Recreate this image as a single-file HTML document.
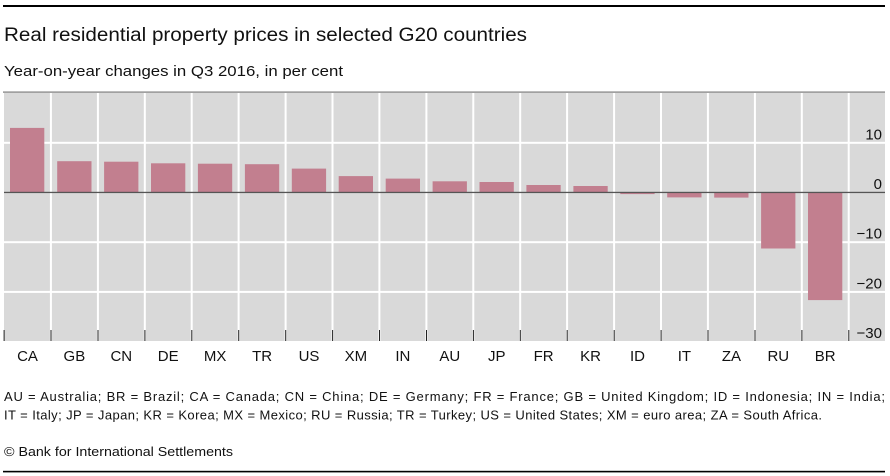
<!DOCTYPE html>
<html>
<head>
<meta charset="utf-8">
<style>
  html,body{margin:0;padding:0;background:#fff;}
  svg{display:block;}
  text{font-family:"Liberation Sans","DejaVu Sans",sans-serif;fill:#111;}
</style>
</head>
<body>
<svg width="890" height="476" viewBox="0 0 890 476" xmlns="http://www.w3.org/2000/svg">
  <!-- top rule -->
  <rect x="3" y="5" width="882" height="2" fill="#000"/>
  <text x="4" y="41" font-size="19" textLength="523" lengthAdjust="spacingAndGlyphs">Real residential property prices in selected G20 countries</text>
  <text x="4" y="76" font-size="15" textLength="339" lengthAdjust="spacingAndGlyphs">Year-on-year changes in Q3 2016, in per cent</text>
  <!-- line above plot -->
  <rect x="3" y="91.5" width="882" height="1.2" fill="#777"/>
  <!-- plot background -->
  <rect x="4" y="93" width="881" height="248" fill="#d9d9d9"/>
  <!-- horizontal gridlines -->
  <g fill="#fff">
    <rect x="4" y="141.8" width="881" height="2"/>
    <rect x="4" y="241.2" width="881" height="2"/>
    <rect x="4" y="290.9" width="881" height="2"/>
  </g>
  <!-- vertical gridlines -->
  <g fill="#fff">
    <rect x="49.9" y="93" width="2" height="248"/>
    <rect x="96.9" y="93" width="2" height="248"/>
    <rect x="143.8" y="93" width="2" height="248"/>
    <rect x="190.7" y="93" width="2" height="248"/>
    <rect x="237.6" y="93" width="2" height="248"/>
    <rect x="284.6" y="93" width="2" height="248"/>
    <rect x="331.5" y="93" width="2" height="248"/>
    <rect x="378.4" y="93" width="2" height="248"/>
    <rect x="425.4" y="93" width="2" height="248"/>
    <rect x="472.3" y="93" width="2" height="248"/>
    <rect x="519.2" y="93" width="2" height="248"/>
    <rect x="566.1" y="93" width="2" height="248"/>
    <rect x="613.1" y="93" width="2" height="248"/>
    <rect x="660.0" y="93" width="2" height="248"/>
    <rect x="706.9" y="93" width="2" height="248"/>
    <rect x="753.9" y="93" width="2" height="248"/>
    <rect x="800.8" y="93" width="2" height="248"/>
    <rect x="847.7" y="93" width="2" height="248"/>
  </g>
  <!-- bars: zero at 192.5, 4.97 px/unit -->
  <g fill="#c27f8f">
    <rect x="10.0" y="127.9" width="34.3" height="64.6"/>
    <rect x="57.2" y="161.2" width="34.3" height="31.3"/>
    <rect x="104.1" y="161.7" width="34.3" height="30.8"/>
    <rect x="151.0" y="163.3" width="34.3" height="29.2"/>
    <rect x="197.9" y="163.7" width="34.3" height="28.8"/>
    <rect x="244.9" y="164.2" width="34.3" height="28.3"/>
    <rect x="291.8" y="168.6" width="34.3" height="23.9"/>
    <rect x="338.7" y="176.1" width="34.3" height="16.4"/>
    <rect x="385.7" y="178.6" width="34.3" height="13.9"/>
    <rect x="432.6" y="181.3" width="34.3" height="11.2"/>
    <rect x="479.5" y="182.0" width="34.3" height="10.5"/>
    <rect x="526.4" y="185.0" width="34.3" height="7.5"/>
    <rect x="573.4" y="186.0" width="34.3" height="6.5"/>
    <rect x="620.3" y="192.5" width="34.3" height="1.6"/>
    <rect x="667.2" y="192.5" width="34.3" height="4.9"/>
    <rect x="714.2" y="192.5" width="34.3" height="5.1"/>
    <rect x="761.1" y="192.5" width="34.3" height="56.0"/>
    <rect x="808.0" y="192.5" width="34.3" height="107.6"/>
  </g>
  <!-- zero line -->
  <rect x="4" y="191.8" width="881" height="1.3" fill="#555"/>
  <!-- tick marks -->
  <g fill="#222">
    <rect x="3.6" y="330" width="1" height="11"/>
    <rect x="50.5" y="330" width="1" height="11"/>
    <rect x="97.5" y="330" width="1" height="11"/>
    <rect x="144.4" y="330" width="1" height="11"/>
    <rect x="191.3" y="330" width="1" height="11"/>
    <rect x="238.2" y="330" width="1" height="11"/>
    <rect x="285.2" y="330" width="1" height="11"/>
    <rect x="332.1" y="330" width="1" height="11"/>
    <rect x="379.0" y="330" width="1" height="11"/>
    <rect x="426.0" y="330" width="1" height="11"/>
    <rect x="472.9" y="330" width="1" height="11"/>
    <rect x="519.8" y="330" width="1" height="11"/>
    <rect x="566.7" y="330" width="1" height="11"/>
    <rect x="613.7" y="330" width="1" height="11"/>
    <rect x="660.6" y="330" width="1" height="11"/>
    <rect x="707.5" y="330" width="1" height="11"/>
    <rect x="754.5" y="330" width="1" height="11"/>
    <rect x="801.4" y="330" width="1" height="11"/>
    <rect x="848.3" y="330" width="1" height="11"/>
  </g>
  <!-- y labels -->
  <g font-size="15" text-anchor="end">
    <text x="882" y="139.5">10</text>
    <text x="882" y="189">0</text>
    <text x="882" y="238.7">−10</text>
    <text x="882" y="288.4">−20</text>
    <text x="882" y="338">−30</text>
  </g>
  <!-- x labels -->
  <g font-size="15" text-anchor="middle">
    <text x="27.5" y="361">CA</text>
    <text x="74.4" y="361">GB</text>
    <text x="121.3" y="361">CN</text>
    <text x="168.2" y="361">DE</text>
    <text x="215.1" y="361">MX</text>
    <text x="262.1" y="361">TR</text>
    <text x="309.0" y="361">US</text>
    <text x="355.9" y="361">XM</text>
    <text x="402.9" y="361">IN</text>
    <text x="449.8" y="361">AU</text>
    <text x="496.7" y="361">JP</text>
    <text x="543.6" y="361">FR</text>
    <text x="590.6" y="361">KR</text>
    <text x="637.5" y="361">ID</text>
    <text x="684.4" y="361">IT</text>
    <text x="731.4" y="361">ZA</text>
    <text x="778.3" y="361">RU</text>
    <text x="825.2" y="361">BR</text>
  </g>
  <!-- footnotes -->
  <text x="4" y="401" font-size="13" textLength="881" lengthAdjust="spacing">AU = Australia; BR = Brazil; CA = Canada; CN = China; DE = Germany; FR = France; GB = United Kingdom; ID = Indonesia; IN = India;</text>
  <text x="4" y="419.3" font-size="13" textLength="818" lengthAdjust="spacing">IT = Italy; JP = Japan; KR = Korea; MX = Mexico; RU = Russia; TR = Turkey; US = United States; XM = euro area; ZA = South Africa.</text>
  <text x="4" y="456" font-size="13" textLength="229" lengthAdjust="spacingAndGlyphs">© Bank for International Settlements</text>
  <!-- bottom rule -->
  <rect x="3" y="470.8" width="882" height="1.6" fill="#000"/>
</svg>
</body>
</html>
